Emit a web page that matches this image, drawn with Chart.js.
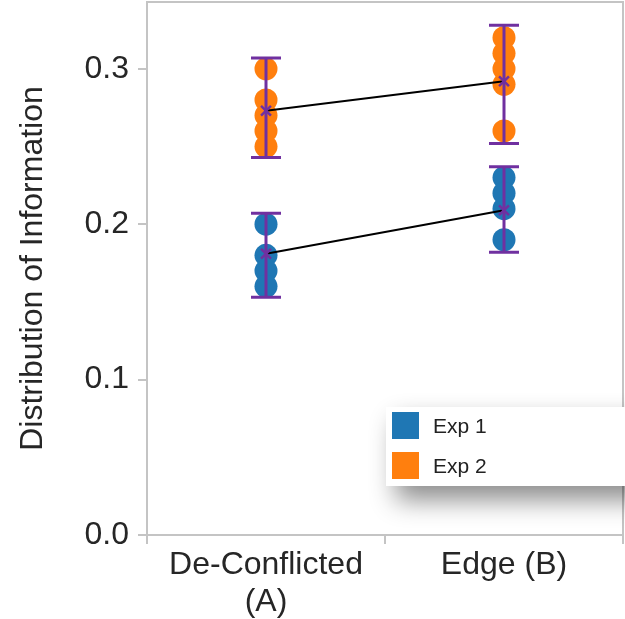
<!DOCTYPE html>
<html>
<head>
<meta charset="utf-8">
<script src="https://cdn.jsdelivr.net/npm/chart.js@4"></script>
<style>
    html, body { margin: 0; padding: 0; background: #fff; overflow: hidden; }
    #wrap { position: relative; width: 625px; height: 619px; overflow: hidden; }
    #legendBox {
        position: absolute; left: 386px; top: 407px; width: 260px; height: 79px;
        background: #fff; box-shadow: 10px 14px 26px rgba(0, 0, 0, 0.45);
        font-family: "Liberation Sans", Arial, sans-serif; font-size: 21px; color: #222;
    }
    .item { position: absolute; left: 6px; height: 28px; line-height: 28px; }
    .item span.sw { position: absolute; left: 0; top: 0; width: 27px; height: 27px; }
    .item span.tx { position: absolute; left: 41px; top: 0; white-space: nowrap; }
</style>
</head>
<body>
<div id="wrap">
    <canvas id="dotChart" width="625" height="619"></canvas>
    <div id="legendBox"></div>
</div>
<script>
    const categories = [['De-Conflicted', '(A)'], 'Edge (B)'];
    const seriesNames = ['Exp 1', 'Exp 2'];
    const seriesColors = ['#1f77b4', '#ff7f0e'];

    // individual observations per category
    const exp1A = [0.20, 0.18, 0.17, 0.16];
    const exp1B = [0.23, 0.22, 0.21, 0.19];
    const exp2A = [0.30, 0.28, 0.27, 0.26, 0.25];
    const exp2B = [0.32, 0.31, 0.30, 0.29, 0.26];

    // means and error bar bounds
    const exp1Mean = [0.181, 0.209];
    const exp2Mean = [0.273, 0.292];
    const exp1Upper = [0.207, 0.237];
    const exp1Lower = [0.153, 0.182];
    const exp2Upper = [0.307, 0.328];
    const exp2Lower = [0.243, 0.252];

    const yTicks = [0, 0.1, 0.2, 0.3];
    const FONT = 'Liberation Sans';

    function points(catIndex, values) {
        return values.map(v => ({ x: catIndex, y: v }));
    }

    function dotDataset(label, color, a, b) {
        return {
            label: label,
            data: points(0, a).concat(points(1, b)),
            showLine: false,
            pointRadius: 11.5,
            pointHoverRadius: 11.5,
            pointBackgroundColor: color,
            pointBorderWidth: 0,
            borderColor: color,
            order: 3
        };
    }

    function meanDataset(label, means) {
        return {
            label: label,
            data: means.map((m, i) => ({ x: i, y: m })),
            borderColor: '#000',
            borderWidth: 2,
            pointStyle: 'crossRot',
            pointRadius: 7,
            pointBorderColor: '#7030a0',
            pointBorderWidth: 2.5,
            fill: false,
            order: 1
        };
    }

    const errorBars = [
        { upper: exp1Upper, lower: exp1Lower },
        { upper: exp2Upper, lower: exp2Lower }
    ];

    // draws the purple error bars and the frame of the plot area
    const extras = {
        id: 'extras',
        afterDatasetsDraw(chart) {
            const ctx = chart.ctx;
            const xs = chart.scales.x, ys = chart.scales.y;
            ctx.save();
            ctx.strokeStyle = '#7030a0';
            ctx.lineWidth = 3;
            errorBars.forEach(eb => {
                eb.upper.forEach((u, i) => {
                    const x = xs.getPixelForValue(i);
                    const yu = ys.getPixelForValue(u);
                    const yl = ys.getPixelForValue(eb.lower[i]);
                    ctx.beginPath();
                    ctx.moveTo(x, yu); ctx.lineTo(x, yl);
                    ctx.moveTo(x - 15, yu); ctx.lineTo(x + 15, yu);
                    ctx.moveTo(x - 15, yl); ctx.lineTo(x + 15, yl);
                    ctx.stroke();
                });
            });
            ctx.restore();
        },
        beforeDraw(chart) {
            const a = chart.chartArea, ctx = chart.ctx;
            ctx.save();
            ctx.strokeStyle = '#c4c4c4';
            ctx.lineWidth = 2;
            ctx.beginPath();
            ctx.moveTo(a.left, a.top); ctx.lineTo(a.right, a.top); ctx.lineTo(a.right, a.bottom);
            ctx.stroke();
            ctx.restore();
        }
    };

    const ctx = document.getElementById('dotChart').getContext('2d');
    new Chart(ctx, {
        type: 'line',
        data: {
            datasets: [
                dotDataset(seriesNames[0], seriesColors[0], exp1A, exp1B),
                dotDataset(seriesNames[1], seriesColors[1], exp2A, exp2B),
                meanDataset('Exp 1 mean', exp1Mean),
                meanDataset('Exp 2 mean', exp2Mean)
            ]
        },
        options: {
            responsive: false,
            animation: false,
            layout: { autoPadding: false, padding: { top: 2, right: 2, left: 0, bottom: 0 } },
            plugins: { legend: { display: false }, tooltip: { enabled: false } },
            scales: {
                x: {
                    type: 'linear',
                    min: -0.5,
                    max: categories.length - 0.5,
                    afterBuildTicks: scale => {
                        const t = [];
                        for (let v = -0.5; v <= categories.length - 0.5; v += 0.5) t.push({ value: v });
                        scale.ticks = t;
                    },
                    grid: {
                        drawOnChartArea: false, drawTicks: true, tickLength: 9, lineWidth: 2,
                        color: c => (c.tick && Number.isInteger(c.tick.value)) ? 'rgba(0,0,0,0)' : '#c4c4c4'
                    },
                    border: { color: '#c4c4c4', width: 2 },
                    ticks: {
                        color: '#262626', padding: 2, maxRotation: 0, autoSkip: false,
                        callback: v => Number.isInteger(v) ? categories[v] : '',
                        font: { family: FONT, size: 32, lineHeight: 1.18 }
                    },
                    afterFit: scale => {
                        scale.height = 84;
                        scale.paddingLeft = 0; scale.paddingRight = 0;
                    }
                },
                y: {
                    min: 0,
                    max: 0.343,
                    afterBuildTicks: scale => { scale.ticks = yTicks.map(v => ({ value: v })); },
                    grid: { drawOnChartArea: false, drawTicks: true, tickLength: 9, color: '#c4c4c4', lineWidth: 2 },
                    border: { color: '#c4c4c4', width: 2 },
                    ticks: { color: '#262626', padding: 9, callback: v => v.toFixed(1), font: { family: FONT, size: 32 } },
                    title: { display: true, text: 'Distribution of Information', color: '#262626', padding: { top: 14, bottom: 0 }, font: { family: FONT, size: 32 } },
                    afterFit: scale => {
                        scale.width = 147;
                        scale.paddingTop = 0; scale.paddingBottom = 0;
                    }
                }
            }
        },
        plugins: [extras]
    });

    // legend box
    const legendBox = document.getElementById('legendBox');
    seriesNames.forEach((name, i) => {
        const item = document.createElement('div');
        item.className = 'item';
        item.style.top = (5 + i * 40) + 'px';
        item.innerHTML = '<span class="sw" style="background:' + seriesColors[i] + '"></span><span class="tx">' + name + '</span>';
        legendBox.appendChild(item);
    });
</script>
</body>
</html>
